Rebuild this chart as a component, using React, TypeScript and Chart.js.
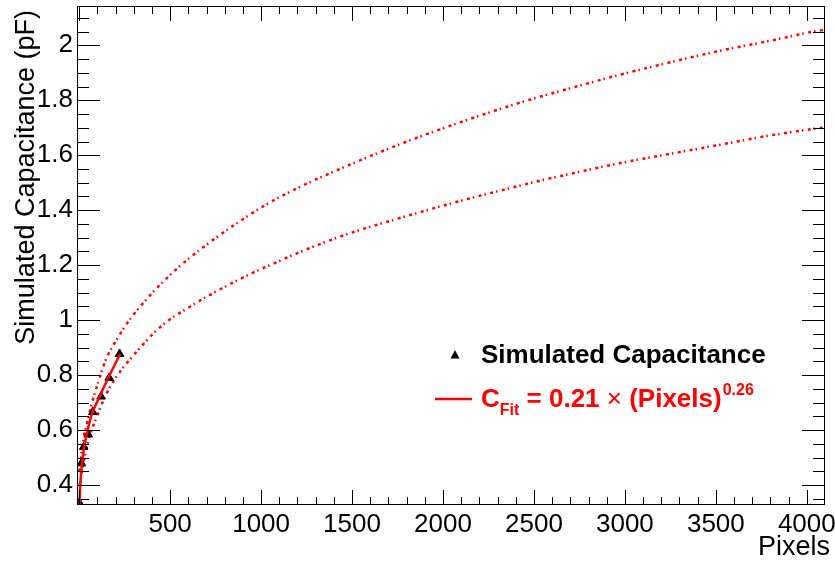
import React, { useEffect, useRef } from 'react';
import { Chart, registerables } from 'chart.js';

Chart.register(...registerables);

// ---- data ----
const simPixels = [2, 12, 25, 50, 75, 120, 165, 222];
const simCap = [0.334, 0.479, 0.539, 0.584, 0.666, 0.722, 0.79, 0.877];

const fitPixels = [1, 6, 19, 38, 65, 111, 157, 225];
const fitCap = [0.3, 0.4, 0.5, 0.575, 0.648, 0.72, 0.786, 0.877];

const upperPixels = [1, 19, 47, 74, 102, 129, 157, 212, 249, 294, 396, 515, 606, 726, 845, 1029, 1221, 1496, 1762, 2065, 2441, 2680, 2955, 3211, 3487, 3780, 4037, 4100];
const upperCap = [0.45, 0.551, 0.636, 0.708, 0.768, 0.825, 0.872, 0.935, 0.975, 1.016, 1.095, 1.174, 1.226, 1.287, 1.343, 1.421, 1.487, 1.568, 1.64, 1.713, 1.795, 1.84, 1.89, 1.932, 1.975, 2.014, 2.05, 2.057];

const lowerPixels = [3, 38, 65, 93, 129, 148, 190, 231, 276, 322, 405, 487, 606, 735, 864, 992, 1065, 1203, 1469, 1744, 2019, 2276, 2551, 2698, 2955, 3230, 3505, 3780, 4037, 4100];
const lowerCap = [0.4, 0.527, 0.593, 0.642, 0.702, 0.73, 0.78, 0.818, 0.855, 0.89, 0.95, 0.997, 1.048, 1.098, 1.143, 1.184, 1.205, 1.245, 1.312, 1.368, 1.42, 1.465, 1.51, 1.532, 1.569, 1.603, 1.636, 1.67, 1.696, 1.701];

const xTickValues = [0, 500, 1000, 1500, 2000, 2500, 3000, 3500, 4000];
const xTickLabels = ['', '500', '1000', '1500', '2000', '2500', '3000', '3500', '4000'];
const yTickValues = [0.4, 0.6, 0.8, 1.0, 1.2, 1.4, 1.6, 1.8, 2.0];
const yTickLabels = ['0.4', '0.6', '0.8', '1', '1.2', '1.4', '1.6', '1.8', '2'];
const xMinorStep = 100;
const yMinorStep = 0.05;

const X_MIN = -12;
const X_MAX = 4100;
const Y_MIN = 0.3275;
const Y_MAX = 2.143;

const FONT = '"Liberation Sans", Arial, Helvetica, sans-serif';

const toPts = (xs: number[], ys: number[]) => xs.map((x, i) => ({ x, y: ys[i] }));

const framePlugin = {
  id: 'rootFrame',
  afterDraw(chart: any) {
    const { ctx, chartArea } = chart;
    const { left, right, top, bottom } = chartArea;
    const xs = chart.scales.x;
    const ys = chart.scales.y;
    ctx.save();
    ctx.strokeStyle = '#000';
    ctx.lineWidth = 1;
    ctx.beginPath();
    const xMaj = 15, xMin = 8, yMaj = 23, yMin = 12;
    for (let k = Math.ceil(X_MIN / xMinorStep); k * xMinorStep <= X_MAX + 1e-9; k++) {
      const v = k * xMinorStep;
      const isMaj = xTickValues.some((t) => Math.abs(t - v) < 1e-6);
      const len = isMaj ? xMaj : xMin;
      const px = Math.round(xs.getPixelForValue(v)) + 0.5;
      if (px < left || px > right) continue;
      ctx.moveTo(px, bottom);
      ctx.lineTo(px, bottom - len);
      ctx.moveTo(px, top);
      ctx.lineTo(px, top + len);
    }
    for (let k = Math.ceil(Y_MIN / yMinorStep); k * yMinorStep <= Y_MAX + 1e-9; k++) {
      const v = k * yMinorStep;
      const isMaj = yTickValues.some((t) => Math.abs(t - v) < 1e-6);
      const len = isMaj ? yMaj : yMin;
      const py = Math.round(ys.getPixelForValue(v)) + 0.5;
      if (py < top || py > bottom) continue;
      ctx.moveTo(left, py);
      ctx.lineTo(left + len, py);
      ctx.moveTo(right, py);
      ctx.lineTo(right - len, py);
    }
    ctx.stroke();
    ctx.strokeRect(left + 0.5, top + 0.5, right - left - 1, bottom - top - 1);

    // axis titles
    ctx.fillStyle = '#000';
    ctx.font = `27px ${FONT}`;
    ctx.textAlign = 'right';
    ctx.textBaseline = 'alphabetic';
    ctx.fillText('Pixels', 830, 555);
    ctx.save();
    ctx.translate(34, 10);
    ctx.rotate(-Math.PI / 2);
    ctx.textAlign = 'right';
    ctx.fillText('Simulated Capacitance (pF)', 0, 0);
    ctx.restore();

    // legend
    ctx.fillStyle = '#000';
    ctx.beginPath();
    ctx.moveTo(455, 350);
    ctx.lineTo(459.5, 358.5);
    ctx.lineTo(450.5, 358.5);
    ctx.closePath();
    ctx.fill();
    ctx.textAlign = 'left';
    ctx.font = `bold 26px ${FONT}`;
    ctx.fillText('Simulated Capacitance', 481, 363);

    ctx.strokeStyle = '#ff0000';
    ctx.lineWidth = 2.5;
    ctx.beginPath();
    ctx.moveTo(435, 399);
    ctx.lineTo(472, 399);
    ctx.stroke();

    ctx.fillStyle = '#ff0000';
    let x = 481;
    const parts: [string, string, number][] = [
      ['C', `bold 26px ${FONT}`, 407],
      ['Fit', `bold 16px ${FONT}`, 415],
      [' = 0.21 ', `bold 26px ${FONT}`, 407],
      ['\u00D7', `26px ${FONT}`, 407],
      [' (Pixels)', `bold 26px ${FONT}`, 407],
    ];
    for (const [t, f, by] of parts) {
      ctx.font = f;
      ctx.fillText(t, x, by);
      x += ctx.measureText(t).width;
    }
    ctx.font = `bold 16px ${FONT}`;
    ctx.fillText('0.26', x + 1, 395);
    ctx.restore();
  },
};

export default function App() {
  const ref = useRef<HTMLCanvasElement | null>(null);
  useEffect(() => {
    if (!ref.current) return;
    const dotted = [3, 3, 1.5, 4.5];
    const chart = new Chart(ref.current, {
      type: 'scatter',
      data: {
        datasets: [
          {
            label: 'Fit',
            data: toPts(fitPixels, fitCap),
            showLine: true,
            borderColor: '#ff0000',
            borderWidth: 2.5,
            pointRadius: 0,
            cubicInterpolationMode: 'monotone',
          },
          {
            label: 'Simulated Capacitance',
            data: toPts(simPixels, simCap),
            showLine: false,
            pointStyle: 'triangle',
            pointRadius: 5,
            backgroundColor: '#000',
            borderColor: '#000',
            borderWidth: 1,
          },
          {
            label: 'Upper',
            data: toPts(upperPixels, upperCap),
            showLine: true,
            borderColor: '#ff0000',
            borderWidth: 2.5,
            borderDash: dotted,
            pointRadius: 0,
            cubicInterpolationMode: 'monotone',
          },
          {
            label: 'Lower',
            data: toPts(lowerPixels, lowerCap),
            showLine: true,
            borderColor: '#ff0000',
            borderWidth: 2.5,
            borderDash: dotted,
            pointRadius: 0,
            cubicInterpolationMode: 'monotone',
          },
        ],
      } as any,
      options: {
        animation: false,
        responsive: false,
        maintainAspectRatio: false,
        layout: { padding: { top: 3, right: 10, left: 0, bottom: 0 } },
        plugins: { legend: { display: false }, tooltip: { enabled: false } },
        scales: {
          x: {
            type: 'linear',
            min: X_MIN,
            max: X_MAX,
            grid: { display: false, drawTicks: false },
            border: { display: false },
            afterFit: (s: any) => {
              s.height = 60;
              s.paddingLeft = 0;
              s.paddingRight = 0;
            },
            afterBuildTicks: (s: any) => { s.ticks = xTickValues.map((v) => ({ value: v })); },
            ticks: {
              autoSkip: false,
              maxRotation: 0,
              minRotation: 0,
              padding: 4,
              color: '#000',
              font: { family: FONT, size: 26 },
              callback: (_v: any, i: number) => xTickLabels[i],
            },
          },
          y: {
            type: 'linear',
            min: Y_MIN,
            max: Y_MAX,
            grid: { display: false, drawTicks: false },
            border: { display: false },
            afterFit: (s: any) => {
              s.width = 77;
              s.paddingTop = 0;
              s.paddingBottom = 0;
            },
            afterBuildTicks: (s: any) => { s.ticks = yTickValues.map((v) => ({ value: v })); },
            ticks: {
              autoSkip: false,
              padding: 4,
              color: '#000',
              font: { family: FONT, size: 26 },
              callback: (_v: any, i: number) => yTickLabels[i],
            },
          },
        },
      } as any,
      plugins: [framePlugin],
    });
    return () => chart.destroy();
  }, []);
  return (
    <div style={{ position: 'fixed', left: 0, top: 0, width: 835, height: 565, background: '#fff' }}>
      <canvas ref={ref} width={835} height={565} style={{ width: 835, height: 565, display: 'block' }} />
    </div>
  );
}
